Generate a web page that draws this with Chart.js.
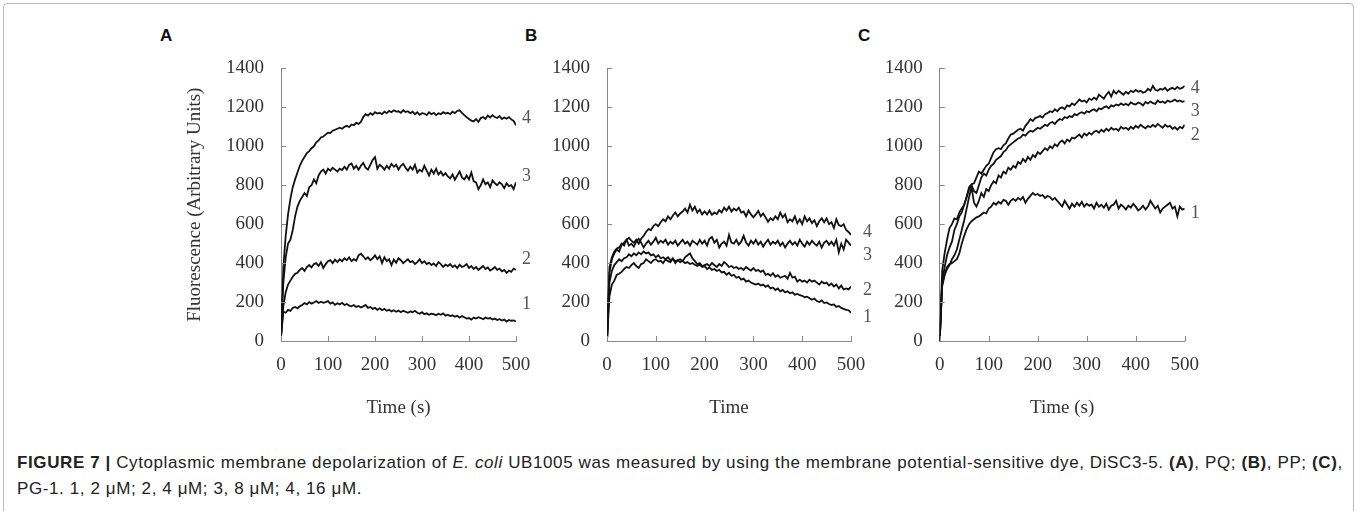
<!DOCTYPE html>
<html>
<head>
<meta charset="utf-8">
<script src="https://cdn.jsdelivr.net/npm/chart.js@4.4.1/dist/chart.umd.min.js"></script>
<style>
  body { margin: 0; background: #fff; width: 1358px; height: 511px; position: relative; overflow: hidden; font-family: "Liberation Sans", Arial, sans-serif; }
  .frame { position: absolute; left: 3px; top: 3px; width: 1349px; height: 530px; border: 1px solid #b8b8b8; border-radius: 4px; }
  canvas { position: absolute; }
  .letter { position: absolute; font-weight: bold; font-size: 17px; line-height: 1; color: #111; }
  .caption { position: absolute; left: 17px; top: 450px; font-size: 17px; letter-spacing: 0.6px; line-height: 26px; color: #222; white-space: nowrap; }
</style>
</head>
<body>
<div class="frame"></div>
<div class="letter" style="left:160px;top:27px">A</div>
<div class="letter" style="left:525px;top:27px">B</div>
<div class="letter" style="left:858px;top:27px">C</div>
<canvas id="panelA" width="390" height="383" style="left:180px;top:40px"></canvas>
<canvas id="panelB" width="360" height="383" style="left:540px;top:40px"></canvas>
<canvas id="panelC" width="360" height="383" style="left:870px;top:40px"></canvas>
<div class="caption"><b>FIGURE 7 |</b> Cytoplasmic membrane depolarization of <i>E. coli</i> UB1005 was measured by using the membrane potential-sensitive dye, DiSC3-5. <b>(A)</b>, PQ; <b>(B)</b>, PP; <b>(C)</b>,<br>PG-1. 1, 2 &#956;M; 2, 4 &#956;M; 3, 8 &#956;M; 4, 16 &#956;M.</div>

<script>
// time points (s), shared by all three panels
const time = [
  0, 5, 10, 15, 20, 25, 30, 35, 40, 45,
  50, 55, 60, 65, 70, 75, 80, 85, 90, 95,
  100, 105, 110, 115, 120, 125, 130, 135, 140, 145,
  150, 155, 160, 165, 170, 175, 180, 185, 190, 195,
  200, 205, 210, 215, 220, 225, 230, 235, 240, 245,
  250, 255, 260, 265, 270, 275, 280, 285, 290, 295,
  300, 305, 310, 315, 320, 325, 330, 335, 340, 345,
  350, 355, 360, 365, 370, 375, 380, 385, 390, 395,
  400, 405, 410, 415, 420, 425, 430, 435, 440, 445,
  450, 455, 460, 465, 470, 475, 480, 485, 490, 495,
  500];

const seriesNames = ['1', '2', '3', '4'];
const yTicks = [0, 200, 400, 600, 800, 1000, 1200, 1400];
const xTicks = [0, 100, 200, 300, 400, 500];

// Panel A (PQ)
const a1 = [
  20, 150, 145, 160, 155, 170, 175, 168, 178, 185,
  195, 188, 200, 192, 198, 205, 195, 202, 196, 200,
  205, 192, 198, 186, 194, 188, 196, 185, 190, 182,
  178, 185, 175, 180, 172, 178, 185, 170, 175, 165,
  170, 160, 168, 158, 165, 155, 160, 152, 158, 150,
  156, 148, 155, 150, 145, 152, 148, 155, 145, 140,
  148, 138, 142, 135, 140, 138, 132, 140, 135, 142,
  130, 135, 128, 132, 125, 130, 120, 128, 122, 115,
  118, 110, 120, 115, 122, 118, 112, 120, 115, 118,
  110, 115, 108, 112, 105, 110, 100, 108, 104, 106,
  100];
const a2 = [
  20, 180, 250, 290, 310, 330, 345, 350, 365, 375,
  360, 380, 390, 378, 395, 400, 385, 405, 375, 395,
  410, 415, 400, 418, 405, 420, 410, 425, 415, 430,
  410, 420, 412, 440, 448, 435, 420, 430, 415, 425,
  440, 420, 435, 400, 430, 410, 420, 390, 418, 402,
  425, 415, 400, 410, 420, 405, 410, 395, 405, 420,
  400, 410, 395, 402, 390, 398, 385, 405, 395, 380,
  392, 385, 395, 380, 388, 375, 392, 380, 385, 395,
  375, 385, 370, 380, 365, 375, 385, 370, 378, 362,
  370, 380, 365, 372, 358, 365, 350, 362, 355, 372,
  365];
const a3 = [
  20, 300, 430, 500, 520, 570, 640, 690, 720, 740,
  760, 745, 790, 800, 830, 810, 850, 870, 880, 860,
  885, 875, 890, 880, 870, 885, 878, 895, 880, 905,
  912, 885, 900, 880, 900, 915, 890, 880, 905, 930,
  945, 885, 905, 895, 880, 900, 885, 910, 895, 905,
  880, 900, 910, 890, 875, 895, 880, 905, 865, 880,
  870, 900, 875, 850, 880, 860, 885, 855, 870, 850,
  862, 845, 835, 855, 828, 850, 870, 840, 830, 850,
  830, 865, 820, 815, 780, 800, 830, 805, 815, 790,
  825, 810, 800, 815, 805, 785, 810, 795, 800, 780,
  815];
const a4 = [
  20, 380, 540, 650, 730, 790, 830, 865, 900, 925,
  945, 965, 975, 990, 1000, 1020, 1030, 1045, 1050, 1060,
  1070, 1068, 1080, 1085, 1090, 1095, 1090, 1100, 1105, 1098,
  1112, 1108, 1120, 1115, 1125, 1150, 1165, 1158, 1170, 1162,
  1175, 1168, 1172, 1165, 1178, 1170, 1182, 1175, 1185, 1178,
  1180, 1172, 1185, 1176, 1180, 1170, 1178, 1165, 1175, 1162,
  1170, 1168, 1160, 1175, 1165, 1172, 1160, 1170, 1165, 1175,
  1168, 1172, 1165, 1178, 1170, 1182, 1185, 1172, 1160, 1150,
  1140, 1132, 1128, 1140, 1125, 1145, 1150, 1140, 1158, 1148,
  1160, 1150, 1145, 1155, 1140, 1148, 1142, 1150, 1138, 1130,
  1108];

// Panel B (PP)
const b1 = [
  0, 300, 360, 390, 405, 420, 410, 425, 430, 445,
  435, 450, 440, 455, 445, 460, 450, 455, 440, 445,
  430, 440, 425, 430, 420, 430, 415, 420, 410, 415,
  405, 412, 400, 405, 395, 400, 392, 385, 392, 380,
  385, 370, 378, 365, 370, 360, 365, 352, 355, 340,
  350, 335, 340, 325, 330, 315, 320, 305, 310, 300,
  295, 290, 295, 285, 290, 278, 285, 270, 275, 262,
  270, 255, 262, 250, 255, 245, 250, 238, 242, 235,
  232, 225, 228, 220, 212, 218, 205, 200, 208, 195,
  198, 190, 185, 188, 175, 180, 170, 165, 160, 158,
  145];
const b2 = [
  0, 230, 290, 310, 340, 345, 355, 370, 380, 375,
  390, 400, 385, 375, 395, 400, 420, 410, 400, 415,
  420, 408, 412, 400, 420, 410, 405, 425, 400, 415,
  420, 410, 430, 440, 450, 425, 410, 395, 400, 385,
  390, 395, 385, 400, 390, 380, 395, 385, 405, 395,
  380, 385, 375, 380, 370, 375, 365, 380, 370, 362,
  375, 360, 365, 355, 362, 340, 345, 335, 348, 330,
  338, 325, 330, 335, 320, 350, 325, 330, 305, 315,
  305, 310, 300, 315, 305, 310, 300, 290, 305, 295,
  300, 285, 295, 280, 290, 270, 285, 265, 270, 265,
  280];
const b3 = [
  0, 350, 420, 450, 470, 460, 495, 505, 520, 490,
  500, 485, 510, 525, 505, 480, 500, 515, 495, 510,
  530, 500, 515, 505, 520, 495, 510, 500, 515, 490,
  505, 520, 500, 510, 490, 515, 505, 495, 520, 500,
  515, 490, 525, 535, 505, 520, 480, 500, 510, 490,
  545, 505, 500, 520, 495, 510, 540, 505, 490, 515,
  500, 520, 495, 510, 485, 505, 520, 495, 510, 500,
  515, 490, 505, 480, 500, 515, 495, 508, 490, 520,
  500, 485, 510, 495, 515, 500, 490, 510, 480, 505,
  515, 495, 510, 490, 520, 455, 500, 470, 520, 505,
  490];
const b4 = [
  0, 380, 430, 460, 475, 480, 500, 490, 520, 530,
  515, 505, 520, 500, 525, 540, 560, 575, 570, 590,
  600, 590, 610, 625, 615, 640, 625, 645, 660, 640,
  655, 665, 680, 660, 700, 670, 690, 660, 675, 650,
  665, 650, 670, 648, 660, 652, 672, 660, 685, 670,
  690, 665, 680, 670, 685, 660, 665, 640, 670, 650,
  635, 650, 668, 640, 655, 635, 612, 630, 620, 640,
  625, 660, 635, 650, 610, 625, 615, 640, 605, 625,
  600, 640, 615, 630, 605, 620, 590, 615, 630, 610,
  630, 600, 610, 580, 625, 595, 590, 600, 570, 560,
  545];

// Panel C (PG-1)
const c1 = [
  0, 290, 340, 380, 395, 400, 410, 420, 450, 500,
  540, 575, 600, 615, 625, 635, 640, 650, 660, 655,
  680, 690, 710, 700, 715, 705, 725, 720, 700, 720,
  730, 720, 735, 725, 740, 710, 730, 745, 760, 750,
  755, 745, 750, 735, 745, 740, 725, 735, 720, 705,
  690, 720, 700, 680, 705, 690, 710, 695, 715, 690,
  705, 695, 700, 680, 710, 690, 700, 685, 705, 675,
  695, 700, 720, 680, 700, 690, 675, 695, 685, 705,
  690, 670, 680, 695, 675, 690, 720, 700, 680, 695,
  660, 680, 690, 700, 710, 680, 690, 640, 690, 675,
  680];
const c2 = [
  0, 280, 340, 370, 390, 420, 440, 470, 520, 570,
  620, 680, 740, 790, 710, 690, 720, 760, 740, 780,
  770, 800, 820, 810, 850, 840, 870, 860, 890, 880,
  900, 890, 920, 910, 935, 920, 945, 930, 955, 945,
  970, 960, 975, 990, 980, 1000, 990, 1010, 1000, 1020,
  1030, 1015, 1035, 1025, 1045, 1040, 1050, 1060, 1045, 1065,
  1055, 1070, 1060, 1075, 1080, 1070, 1085, 1075, 1090, 1080,
  1095, 1085, 1090, 1080, 1100, 1090, 1095, 1085, 1100, 1090,
  1105, 1095, 1110, 1100, 1092, 1105, 1098, 1110, 1100, 1115,
  1105, 1095, 1110, 1100, 1105, 1090, 1098, 1085, 1100, 1092,
  1110];
const c3 = [
  0, 300, 380, 440, 480, 510, 570, 600, 640, 660,
  700, 740, 780, 800, 770, 760, 800, 840, 860, 850,
  880, 900, 910, 930, 940, 950, 970, 980, 1000, 1010,
  1020, 1030, 1040, 1045, 1060, 1055, 1070, 1080, 1075, 1085,
  1095, 1090, 1100, 1110, 1105, 1120, 1125, 1115, 1130, 1140,
  1135, 1150, 1145, 1155, 1150, 1165, 1160, 1170, 1175, 1168,
  1180, 1175, 1185, 1190, 1180, 1195, 1190, 1200, 1205, 1195,
  1210, 1205, 1215, 1210, 1220, 1212, 1218, 1210, 1225, 1218,
  1215, 1225, 1220, 1210, 1228, 1220, 1230, 1222, 1218, 1235,
  1225, 1230, 1222, 1235, 1228, 1232, 1240, 1230, 1235, 1228,
  1232];
const c4 = [
  0, 360, 450, 520, 580, 600, 630, 625, 660, 680,
  700, 740, 790, 805, 810, 840, 870, 860, 880, 900,
  910, 940, 970, 985, 990, 985, 1005, 1015, 1040, 1060,
  1065, 1075, 1085, 1090, 1080, 1105, 1120, 1140, 1130, 1145,
  1150, 1155, 1148, 1165, 1170, 1180, 1175, 1190, 1180, 1195,
  1200, 1190, 1210, 1205, 1220, 1212, 1225, 1240, 1230, 1235,
  1225, 1245, 1238, 1250, 1240, 1265, 1255, 1245, 1265, 1280,
  1255, 1285, 1270, 1285, 1275, 1265, 1280, 1270, 1285, 1278,
  1290, 1280, 1285, 1275, 1280, 1295, 1285, 1310, 1290, 1285,
  1295, 1290, 1300, 1285, 1295, 1300, 1292, 1305, 1295, 1300,
  1310];

// where the curve numbers sit (in y units)
const labelsA = [191, 421, 848, 1144];
const labelsB = [121, 263, 439, 556];
const labelsC = [657, 1056, 1182, 1298];

const serif = 'Liberation Serif, Times New Roman, serif';

// inward tick marks + curve numbers at the right end
const decor = {
  id: 'decor',
  afterDatasetsDraw(chart, args, opts) {
    const { ctx, chartArea, scales: { x, y } } = chart;
    ctx.save();
    ctx.strokeStyle = '#888';
    ctx.lineWidth = 1;
    ctx.beginPath();
    yTicks.forEach(v => {
      const py = Math.round(y.getPixelForValue(v)) + 0.5;
      ctx.moveTo(chartArea.left, py);
      ctx.lineTo(chartArea.left + 5, py);
    });
    xTicks.forEach(v => {
      const px = Math.round(x.getPixelForValue(v)) + 0.5;
      ctx.moveTo(px, chartArea.bottom);
      ctx.lineTo(px, chartArea.bottom - 5);
    });
    ctx.stroke();
    ctx.fillStyle = '#555';
    ctx.font = '18px ' + serif;
    ctx.textBaseline = 'middle';
    seriesNames.forEach((n, i) => {
      ctx.fillText(n, chartArea.right + opts.dx, y.getPixelForValue(opts.at[i]));
    });
    ctx.restore();
  }
};

function makePanel(id, series, o) {
  new Chart(document.getElementById(id), {
    type: 'line',
    data: {
      datasets: series.map(vals => ({
        data: time.map((t, i) => ({ x: t, y: vals[i] })),
        borderColor: '#111',
        borderWidth: 1.8,
        pointRadius: 0,
        tension: 0,
        fill: false
      }))
    },
    options: {
      responsive: false,
      animation: false,
      events: [],
      layout: { padding: { top: 22.7, right: o.right, left: 0, bottom: 0 } },
      plugins: {
        legend: { display: false },
        tooltip: { enabled: false },
        decor: { at: o.labelAt, dx: o.dx }
      },
      scales: {
        x: {
          type: 'linear', min: 0, max: 500,
          ticks: { stepSize: 100, color: '#333', font: { family: serif, size: 19 }, padding: 13, maxRotation: 0, callback: v => String(v) },
          grid: { display: false, drawTicks: false },
          border: { color: '#888', width: 1 },
          title: { display: true, text: o.xTitle, color: '#333', font: { family: serif, size: 19 } },
          afterFit: s => { s.height = 82; }
        },
        y: {
          min: 0, max: 1400,
          ticks: { stepSize: 200, color: '#333', font: { family: serif, size: 19 }, padding: 17, callback: v => String(v) },
          grid: { display: false, drawTicks: false },
          border: { color: '#888', width: 1 },
          title: { display: !!o.yTitle, text: o.yTitle || '', color: '#333', font: { family: serif, size: 19 } },
          afterFit: s => { s.width = o.yw; }
        }
      }
    },
    plugins: [decor]
  });
}

makePanel('panelA', [a1, a2, a3, a4], { yw: 101, right: 54, dx: 6, labelAt: labelsA, xTitle: 'Time (s)', yTitle: 'Fluorescence (Arbitrary Units)' });
makePanel('panelB', [b1, b2, b3, b4], { yw: 67, right: 49, dx: 12, labelAt: labelsB, xTitle: 'Time' });
makePanel('panelC', [c1, c2, c3, c4], { yw: 69.7, right: 45.3, dx: 6, labelAt: labelsC, xTitle: 'Time (s)' });
</script>
</body>
</html>
